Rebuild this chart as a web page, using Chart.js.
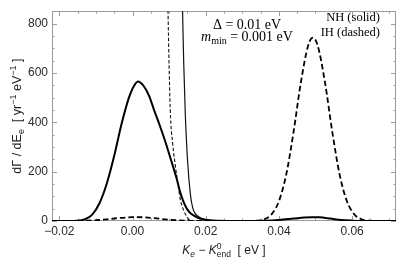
<!DOCTYPE html>
<html><head><meta charset="utf-8">
<style>html,body{margin:0;padding:0;background:#fff;}#wrap{width:405px;height:267px;position:relative;}</style>
<script src="https://cdn.jsdelivr.net/npm/chart.js@4.4.1/dist/chart.umd.min.js"></script>
</head><body><div id="wrap"><canvas id="c" width="405" height="267"></canvas></div>
<script>
// ---- data ----
const xTicks = [-0.02, 0.0, 0.02, 0.04, 0.06];
const xTickLabels = ['\u22120.02', '0.00', '0.02', '0.04', '0.06'];
const yTicks = [0, 200, 400, 600, 800];
const yTickLabels = ['0', '200', '400', '600', '800'];

// NH smeared (thick solid)
const nhSmearX = [-0.022,-0.018,-0.015,-0.013,-0.011,-0.009,-0.007,-0.005,-0.003,-0.001,0.0,0.0015,0.003,0.0045,0.006,0.0075,0.009,0.0105,0.012,0.013,0.014,0.015,0.016,0.0175,0.019,0.021,0.024,0.027,0.030,0.036,0.040,0.044,0.047,0.049,0.051,0.054,0.057,0.060,0.064,0.072];
const nhSmearY = [0,0,1,7,26,73,153,264,393,499,536,565,548,508,445,385,320,248,175,118,75,46,29,16,8,3,1,0,0,1,4,10,14.5,15.5,15,10,4,1.5,0.3,0];

// IH smeared (thick dashed)
const ihSmearX = [-0.022,-0.015,-0.012,-0.009,-0.006,-0.003,0.0,0.0012,0.003,0.006,0.009,0.012,0.015,0.018,0.022,0.030,0.034,0.036,0.038,0.040,0.042,0.044,0.046,0.048,0.0493,0.0506,0.0526,0.0546,0.0566,0.0586,0.0606,0.0626,0.0646,0.068,0.072];
const ihSmearY = [0,0.3,1.5,4,8.5,13,15.5,16,15,11.5,6.5,3,1,0.3,0,0,1,7,27,80,188,360,561,711,743,711,561,360,188,80,27,7,1,0,0];

// NH unsmeared (thin solid)
const nhBareX = [0.0132,0.01368,0.01399,0.0144,0.01505,0.0158,0.0164,0.017,0.018,0.019,0.021,0.024,0.027,0.030];
const nhBareY = [1150,850,643,443,243,110,56,33,18,9,3,1,0,0];

// IH unsmeared (thin dashed)
const ihBareX = [0.0090,0.0097,0.0103,0.0110,0.0116,0.01215,0.0127,0.0131,0.0136,0.0140,0.0149,0.0158,0.017,0.020];
const ihBareY = [1500,850,455,310,235,176,120,83,59,43,16,2,0,0];

const xMin = -0.022, xMax = 0.072, yMin = 0, yMax = 850;

// ---- helpers ----
const pts = (xs, ys) => xs.map((x, i) => ({x: x, y: ys[i]}));
const SANS = '"Liberation Sans", Arial, sans-serif';
const SERIF = '"Liberation Serif", "Times New Roman", serif';

function rich(ctx, pieces, x, y, align) {
  let w = 0;
  pieces.forEach(p => { ctx.font = p.font; p.w = ctx.measureText(p.t).width; if (!p.stack) w += p.w; });
  let cx = align === 'center' ? x - w / 2 : (align === 'right' ? x - w : x);
  pieces.forEach(p => {
    ctx.font = p.font;
    ctx.fillText(p.t, cx, y + (p.dy || 0));
    if (!p.stack) cx += p.w;
  });
}

const decor = {
  id: 'decor',
  beforeDatasetsDraw(chart) {
    const {ctx, chartArea: a, scales: {x, y}} = chart;
    ctx.save();
    ctx.strokeStyle = '#9b9b9b';
    ctx.lineWidth = 1;
    ctx.strokeRect(Math.round(a.left) + 0.5, Math.round(a.top) + 0.5, Math.round(a.right - a.left) - 1, Math.round(a.bottom - a.top) - 1);
    ctx.beginPath();
    for (let k = Math.ceil(xMin / 0.005); k * 0.005 <= xMax + 1e-9; k++) {
      const v = k * 0.005;
      const major = (k % 4 === 0);
      const len = major ? 5 : 2.5;
      const px = Math.round(x.getPixelForValue(v)) + 0.5;
      ctx.moveTo(px, a.bottom); ctx.lineTo(px, a.bottom - len);
      ctx.moveTo(px, a.top); ctx.lineTo(px, a.top + len);
    }
    for (let k = 0; k * 50 <= yMax; k++) {
      const v = k * 50;
      const major = (k % 4 === 0);
      const len = major ? 5 : 2.5;
      const py = Math.round(y.getPixelForValue(v)) + 0.5;
      ctx.moveTo(a.left, py); ctx.lineTo(a.left + len, py);
      ctx.moveTo(a.right, py); ctx.lineTo(a.right - len, py);
    }
    ctx.stroke();
    ctx.restore();
  },
  afterDraw(chart) {
    const {ctx, chartArea: a} = chart;
    ctx.save();
    ctx.fillStyle = '#000';
    ctx.textBaseline = 'alphabetic';
    const s14 = '14px ' + SERIF, s14i = 'italic 14px ' + SERIF, s10 = '10px ' + SERIF;
    rich(ctx, [{t: '\u0394 = 0.01 eV', font: s14}], 247, 29, 'center');
    rich(ctx, [{t: 'm', font: s14i}, {t: 'min', font: s10, dy: 3}, {t: ' = 0.001 eV', font: s14}], 247, 41, 'center');
    const s12 = '12.5px ' + SERIF;
    rich(ctx, [{t: 'NH (solid)', font: s12}], 380, 21, 'right');
    rich(ctx, [{t: 'IH (dashed)', font: s12}], 380, 36, 'right');
    ctx.fillStyle = '#222';
    const f12 = '12px ' + SANS, f12i = 'italic 12px ' + SANS, f8 = '8.5px ' + SANS, f8i = 'italic 8.5px ' + SANS;
    rich(ctx, [
      {t: 'K', font: f12i}, {t: 'e', font: f8i, dy: 3},
      {t: ' \u2212 ', font: f12},
      {t: 'K', font: f12i}, {t: '0', font: f8, dy: -5, stack: true}, {t: 'end', font: f8, dy: 3},
      {t: '  [ eV ]', font: f12}
    ], (a.left + a.right) / 2, 254, 'center');
    ctx.translate(21, (a.top + a.bottom) / 2);
    ctx.rotate(-Math.PI / 2);
    const g = '12.5px ' + SANS, gs = '9px ' + SANS;
    rich(ctx, [
      {t: 'd\u0393 / dE', font: g}, {t: 'e', font: gs, dy: 3},
      {t: '  [ yr', font: g}, {t: '\u22121', font: gs, dy: -5},
      {t: ' eV', font: g}, {t: '\u22121', font: gs, dy: -5},
      {t: ' ]', font: g}
    ], 0, 0, 'center');
    ctx.restore();
  }
};

const ctxEl = document.getElementById('c');
new Chart(ctxEl, {
  type: 'line',
  data: {
    datasets: [
      {data: pts(nhSmearX, nhSmearY), borderColor: '#000', borderWidth: 2, pointRadius: 0, cubicInterpolationMode: 'monotone', fill: false},
      {data: pts(ihSmearX, ihSmearY), borderColor: '#000', borderWidth: 1.8, borderDash: [5.5, 3], pointRadius: 0, cubicInterpolationMode: 'monotone', fill: false},
      {data: pts(nhBareX, nhBareY), borderColor: '#111', borderWidth: 1.2, pointRadius: 0, cubicInterpolationMode: 'monotone', fill: false},
      {data: pts(ihBareX, ihBareY), borderColor: '#111', borderWidth: 1.1, borderDash: [3.5, 2], pointRadius: 0, cubicInterpolationMode: 'monotone', fill: false}
    ]
  },
  options: {
    responsive: false,
    animation: false,
    devicePixelRatio: 1,
    layout: {padding: {left: 0, right: 9, top: 8, bottom: 0}},
    plugins: {legend: {display: false}, tooltip: {enabled: false}},
    scales: {
      x: {
        type: 'linear', min: xMin, max: xMax,
        grid: {display: false, drawTicks: false},
        border: {display: false},
        afterBuildTicks: s => { s.ticks = xTicks.map(v => ({value: v})); },
        afterFit: s => { s.height = 46; },
        ticks: {
          padding: 3, color: '#2a2a2a', font: {family: SANS, size: 12},
          maxRotation: 0, autoSkip: false,
          callback: (v) => { const i = xTicks.findIndex(t => Math.abs(t - v) < 1e-9); return i >= 0 ? xTickLabels[i] : ''; }
        }
      },
      y: {
        type: 'linear', min: yMin, max: yMax,
        grid: {display: false, drawTicks: false},
        border: {display: false},
        afterBuildTicks: s => { s.ticks = yTicks.map(v => ({value: v})); },
        afterFit: s => { s.width = 52; },
        ticks: {
          padding: 4, color: '#2a2a2a', font: {family: SANS, size: 12},
          autoSkip: false,
          callback: (v) => { const i = yTicks.indexOf(v); return i >= 0 ? yTickLabels[i] : ''; }
        }
      }
    }
  },
  plugins: [decor]
});
</script></body></html>
